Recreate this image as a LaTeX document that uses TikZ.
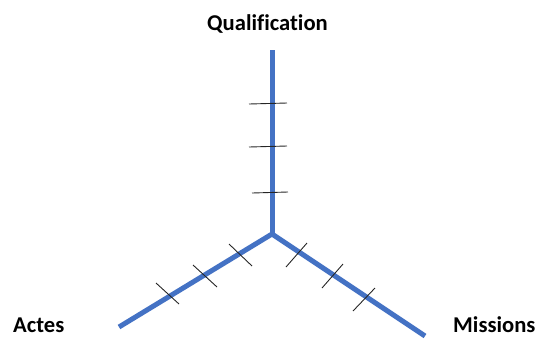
\documentclass[tikz,border=0pt]{standalone}
\usepackage{fontspec}
\setmainfont[Ligatures=NoCommon]{Carlito}
\definecolor{axisblue}{HTML}{4472C4}
\begin{document}
\begin{tikzpicture}[x=1pt,y=-1pt,
  axis/.style={draw=axisblue,line width=5pt},
  tickmark/.style={draw=black!85,line width=0.9pt},
  lbl/.style={font=\fontsize{22.6}{26}\selectfont\bfseries,anchor=base west,inner sep=0pt}]
\useasboundingbox (0,0) rectangle (537,338);
\coordinate (c) at (272,234);
\coordinate (q) at (272,50);
\coordinate (a) at (119,327);
\coordinate (m) at (425,336);
\draw[axis] (c) -- (q);
\draw[axis] (c) -- (a);
\draw[axis] (c) -- (m);
% ticks on vertical axis
\draw[tickmark] (249,104) -- (287,103);
\draw[tickmark] (249,147) -- (287,146);
\draw[tickmark] (252,193) -- (288,192);
% ticks on left axis
\draw[tickmark] (229,244) -- (252,266);
\draw[tickmark] (193,265) -- (217,287);
\draw[tickmark] (156,283) -- (179,304);
% ticks on right axis
\draw[tickmark] (286,267) -- (307,243);
\draw[tickmark] (322,288) -- (343,264);
\draw[tickmark] (353,311) -- (375,288);
\node[lbl] (tq) at (207,30) {Qualification};
\node[lbl] (ta) at (13,332) {Actes};
\node[lbl] (tm) at (453,332) {Missions};
\end{tikzpicture}
\end{document}
